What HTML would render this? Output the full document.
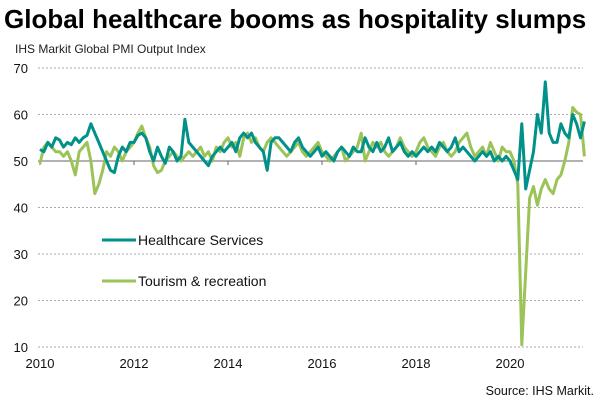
<!DOCTYPE html>
<html><head><meta charset="utf-8"><style>
body{margin:0;background:#fff;width:600px;height:406px;overflow:hidden;font-family:"Liberation Sans",Arial,sans-serif}
svg{display:block}
</style></head><body>
<svg id="chart" width="600" height="406" xmlns="http://www.w3.org/2000/svg" font-family="Liberation Sans, Arial, sans-serif">
<text x="4" y="28" font-size="26" font-weight="bold" fill="#000">Global healthcare booms as hospitality slumps</text>
<text x="15" y="53" font-size="12" fill="#222">IHS Markit Global PMI Output Index</text>
<g id="grid"></g><g id="ylabels"></g><g id="xaxis"></g><g id="series"></g>
<g>
<line x1="102" y1="240" x2="136" y2="240" stroke="#00918a" stroke-width="3"/>
<text x="138" y="245" font-size="14" fill="#111">Healthcare Services</text>
<line x1="102" y1="281" x2="136" y2="281" stroke="#9bc358" stroke-width="3"/>
<text x="138" y="286" font-size="14" fill="#111">Tourism &amp; recreation</text>
</g>
<text x="594" y="395" font-size="12.5" text-anchor="end" fill="#111">Source: IHS Markit.</text>
</svg>
<script>
const yTicks=[10,20,30,40,50,60,70];
const xTickYears=[2010,2012,2014,2016,2018,2020];
const startYear=2010;
const healthcare=[52.5,52,54,53,55,54.5,53,54,53.5,55,54,55,
55.5,58,56,54,52,50,48,47.5,51,53,52,54,
54,55.5,56,55,52,50,53,51,49.5,53,52,50,
51,59,54,53,52,51,50,49,51,52,53,52,
53,54,52,55,56,55,56,54,53,52,48,54,
55,55,54,53,52,54,55,53,52,51,52,53,
51,52,51,50,52,53,52,51,53,52,52,55,
53,52,54,52,53,55,52,53,54,52,51,52,
51,52,53,52,53,52,54,53,52,53,55,52,
53,52,51,50,51,52,51,52,50,51,50,51,
50,48,46,58,44,48,52,60,56,67,56,54,
54,58,56,55,60,58,55,58.5];
const tourism=[49.5,53,54,53,52,52,51,52,50,47,52,53,
54,50,43,45,48,52,51,53,52,50,52,53,
54,56,57.5,55,53,49,47.5,48,50,51,52,51,
50,51,52,51,52,53,51,52,50,53,52,54,
55,53,54,51,55,56,54,55,53,52,54,55,
54,53,52,51,52,53,54,52,51,52,53,54,
52,51,50,51,52,53,50,51,52,53,56,50,
52,54,53,54,52,51,52,53,55,53,52,51,
52,54,55,53,52,51,53,54,52,51,52,54,
55,56,53,51,52,53,51,54,52,50,53,52,
52,50,45,10.5,26,42,44.5,40.5,44,46,44,43,
46,47,50,54,61.5,60.5,60,51];
const NS='http://www.w3.org/2000/svg';
const X0=40,PXY=47,Y10=347,Y70=68,GRIDR=583;
const xs=i=>X0+i*PXY/12;
const ys=v=>Y10+(v-10)*(Y70-Y10)/60;
function mk(t,a,p){const e=document.createElementNS(NS,t);for(const k in a)e.setAttribute(k,a[k]);p.appendChild(e);return e;}
const grid=document.getElementById('grid'),yl=document.getElementById('ylabels'),xa=document.getElementById('xaxis'),sg=document.getElementById('series');
yTicks.forEach(v=>{
 if(v!==50){const g=mk('line',{x1:38,x2:GRIDR,y1:ys(v),y2:ys(v),stroke:'#aaa','stroke-width':1,'stroke-dasharray':'2,2'},grid);
 
 }
 const t=mk('text',{x:28,y:ys(v)+5,'font-size':13,'text-anchor':'end',fill:'#111'},yl);
 t.textContent=v;
 
 
});
const base=mk('line',{x1:38,x2:GRIDR,y1:ys(50),y2:ys(50),stroke:'#666','stroke-width':1},xa);


xTickYears.forEach(yr=>{
 const x=xs((yr-startYear)*12);
 mk('line',{x1:x,x2:x,y1:ys(50),y2:ys(50)+4,stroke:'#666'},xa);
 const t=mk('text',{x:x,y:368,'font-size':13,'text-anchor':'middle',fill:'#111'},xa);
 t.textContent=yr;
 
 
});
function line(data,color,name){
 const d=data.map((v,i)=>(i?'L':'M')+xs(i).toFixed(1)+','+ys(v).toFixed(1)).join('');
 const p=mk('path',{d:d,fill:'none',stroke:color,'stroke-width':3,'stroke-linejoin':'round'},sg);
 
 
}
line(tourism,'#9bc358','tourism-line');
line(healthcare,'#00918a','healthcare-line');
</script>
</body></html>
